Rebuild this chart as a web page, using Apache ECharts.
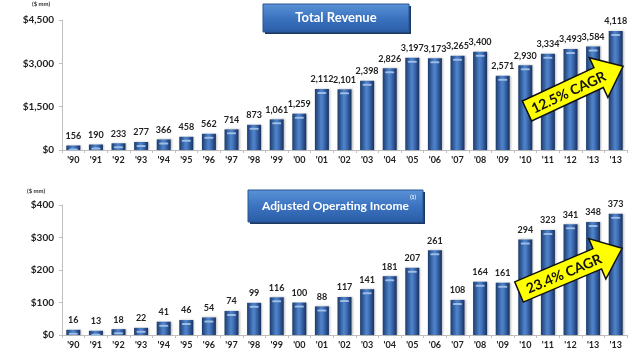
<!DOCTYPE html>
<html>
<head>
<meta charset="utf-8">
<script src="https://cdn.jsdelivr.net/npm/echarts@6/dist/echarts.min.js"></script>
<style>
html, body { margin: 0; padding: 0; background: #fff; }
#chart { width: 640px; height: 354px; }
</style>
</head>
<body>
<div id="chart"></div>
<script>
// the reference has 25 bars, the last two both labelled '13
var years = ["'90","'91","'92","'93","'94","'95","'96","'97","'98","'99","'00","'01",
             "'02","'03","'04","'05","'06","'07","'08","'09","'10","'11","'12","'13","'13"];
var revenue = [156,190,233,277,366,458,562,714,873,1061,1259,2112,
               2101,2398,2826,3197,3173,3265,3400,2571,2930,3334,3493,3584,4118];
var opIncome = [16,13,18,22,41,46,54,74,99,116,100,88,
                117,141,181,207,261,108,164,161,294,323,341,348,373];

var revTicks = [0, 1500, 3000, 4500];
var incTicks = [0, 100, 200, 300, 400];

var font = 'Lato';

var barFill = new echarts.graphic.LinearGradient(0, 0, 1, 0, [
    { offset: 0, color: '#1c3b6d' },
    { offset: 0.45, color: '#4f84cc' },
    { offset: 0.6, color: '#4475bd' },
    { offset: 1, color: '#163060' }
]);

function xAxis(idx) {
    return {
        type: 'category', gridIndex: idx, data: years,
        axisLine: { lineStyle: { color: '#bfbfbf' } },
        axisTick: { show: true, length: 3, lineStyle: { color: '#bfbfbf' } },
        axisLabel: { color: '#222', fontSize: 9, fontFamily: font, fontWeight: 'bold', margin: 6 }
    };
}

function yAxis(idx, ticks) {
    return {
        type: 'value', gridIndex: idx,
        min: ticks[0], max: ticks[ticks.length - 1], interval: ticks[1] - ticks[0],
        splitLine: { show: false },
        axisLine: { show: true, lineStyle: { color: '#bfbfbf' } },
        axisTick: { show: true, length: 3, lineStyle: { color: '#bfbfbf' } },
        axisLabel: { color: '#222', fontSize: 10, fontFamily: font, fontWeight: 'bold', margin: 8,
            formatter: function (v) { return '$' + v.toLocaleString('en-US'); } }
    };
}

function bars(idx, data) {
    return [{
        type: 'bar', xAxisIndex: idx, yAxisIndex: idx, data: data,
        barWidth: 14,
        itemStyle: { color: barFill, shadowColor: 'rgba(0,0,0,0.25)', shadowBlur: 2, shadowOffsetX: 1 },
        label: { show: true, position: 'top', distance: 5, color: '#222', fontSize: 9,
            fontFamily: font, fontWeight: 'bold',
            formatter: function (p) { return p.value.toLocaleString('en-US'); } }
    }, {
        type: 'pictorialBar', xAxisIndex: idx, yAxisIndex: idx, data: data,
        symbol: 'roundRect', symbolSize: [9, 2], symbolPosition: 'end',
        symbolOffset: [0, 3], z: 3, silent: true,
        itemStyle: { color: '#9dbde6' }
    }];
}

function titleBox(x, y, w, h, text, size, sup) {
    var children = [{
        type: 'rect', shape: { x: 2, y: 2, width: w, height: h },
        style: { fill: '#1c3a66' }
    }, {
        type: 'rect', shape: { x: 0, y: 0, width: w, height: h },
        style: {
            fill: new echarts.graphic.LinearGradient(0, 0, 0, 1, [
                { offset: 0, color: '#5b93d8' },
                { offset: 0.5, color: '#3b73c0' },
                { offset: 1, color: '#2a5ca6' }
            ]),
            stroke: '#2b5590', lineWidth: 1
        }
    }, {
        type: 'text', x: w / 2, y: h / 2,
        style: { text: text, fill: '#fff', font: 'bold ' + size + 'px ' + font, align: 'center', verticalAlign: 'middle' }
    }];
    if (sup) {
        children.push({
            type: 'text', x: w - 10, y: 7,
            style: { text: sup, fill: '#fff', font: 'bold 5px ' + font, align: 'center', verticalAlign: 'middle' }
        });
    }
    return { type: 'group', x: x, y: y, children: children };
}

function arrow(x, y, len, deg, text) {
    var h = 11, H = 22, hl = 27;
    return {
        type: 'group', x: x, y: y, rotation: deg * Math.PI / 180,
        children: [{
            type: 'polygon', z: 100,
            shape: { points: [[0, -h], [len - hl, -h], [len - hl, -H], [len, 0], [len - hl, H], [len - hl, h], [0, h]] },
            style: { fill: '#ffff00', stroke: '#111', lineWidth: 1.5 }
        }, {
            type: 'text', z: 101, x: (len - hl) / 2 + 6, y: 1,
            style: { text: text, fill: '#111', font: 'bold 14px ' + font, align: 'center', verticalAlign: 'middle' }
        }]
    };
}

var chart = echarts.init(document.getElementById('chart'));
chart.setOption({
    animation: false,
    grid: [
        { left: 62, right: 13, top: 20, height: 130 },
        { left: 62, right: 13, top: 205, height: 130 }
    ],
    xAxis: [xAxis(0), xAxis(1)],
    yAxis: [yAxis(0, revTicks), yAxis(1, incTicks)],
    series: bars(0, revenue).concat(bars(1, opIncome)),
    graphic: [
        { type: 'text', x: 32, y: 1, style: { text: '($ mm)', fill: '#333', font: 'bold 6px ' + font } },
        { type: 'text', x: 27, y: 188, style: { text: '($ mm)', fill: '#333', font: 'bold 6px ' + font } },
        titleBox(263, 4, 146, 28, 'Total Revenue', 13),
        titleBox(248, 190, 175, 32, 'Adjusted Operating Income', 12, '(1)'),
        arrow(527, 111, 106, 25, '12.5% CAGR'),
        arrow(519, 292, 112, 23, '23.4% CAGR')
    ]
});
</script>
</body>
</html>
